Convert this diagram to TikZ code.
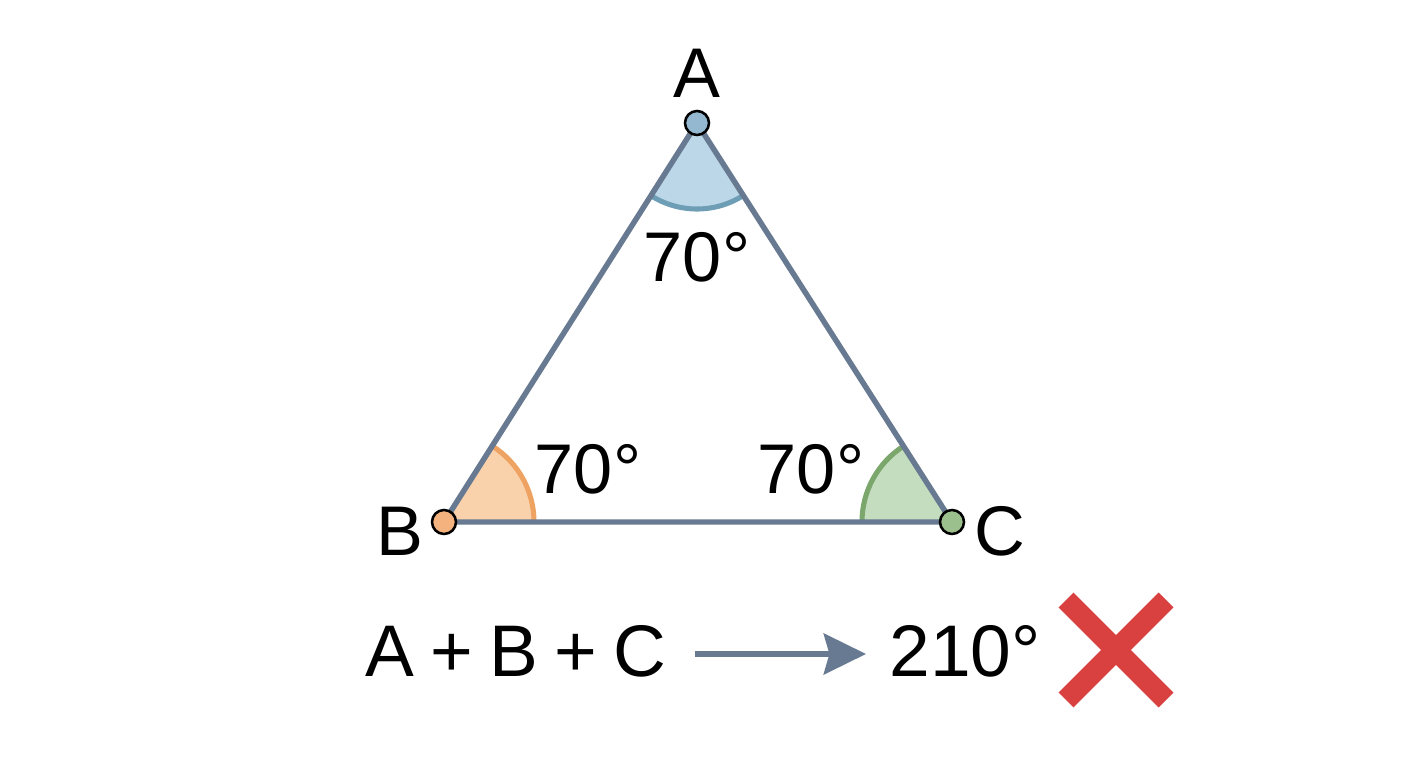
\documentclass[tikz,border=0pt]{standalone}
\usepackage{fontspec}
\setmainfont{Liberation Sans}
\usepackage{tikz}
\usetikzlibrary{arrows.meta,calc}
\definecolor{edgegray}{HTML}{687A91}
\definecolor{afill}{HTML}{BCD8E8}
\definecolor{aarc}{HTML}{6E9EB6}
\definecolor{adot}{HTML}{93B8D0}
\definecolor{bfill}{HTML}{F9D2AC}
\definecolor{barc}{HTML}{EFA362}
\definecolor{bdot}{HTML}{F4B27E}
\definecolor{cfill}{HTML}{C4DDBE}
\definecolor{carc}{HTML}{7BA66C}
\definecolor{cdot}{HTML}{9CC08D}
\definecolor{wrongred}{HTML}{D94040}
\newcommand{\gap}{\hspace{0.22em}}
\tikzset{
  vdot/.style={circle,draw=black,line width=1.8pt,minimum size=0.6cm,inner sep=0pt},
  side/.style={edgegray,line width=3.9pt},
  lab/.style={anchor=base,font=\fontsize{50}{56}\selectfont},
  eq/.style={anchor=base,font=\fontsize{52}{58}\selectfont}
}

\begin{document}
\begin{tikzpicture}[x=0.025cm,y=0.025cm]
\useasboundingbox (0,0) rectangle (1408,768);
\coordinate (A) at (697,645);
\coordinate (B) at (444,246);
\coordinate (C) at (952,246);
% angle sectors
\fill[afill] (A) -- ++(237.6:2.15cm) arc[start angle=237.6,end angle=302.6,radius=2.15cm] -- cycle;
\draw[aarc,line width=3.6pt] ($(A)+(237.6:2.15cm)$) arc[start angle=237.6,end angle=302.6,radius=2.15cm];
\fill[bfill] (B) -- ++(0:2.25cm) arc[start angle=0,end angle=57.6,radius=2.25cm] -- cycle;
\draw[barc,line width=3.6pt] ($(B)+(0:2.25cm)$) arc[start angle=0,end angle=57.6,radius=2.25cm];
\fill[cfill] (C) -- ++(122.6:2.25cm) arc[start angle=122.6,end angle=180,radius=2.25cm] -- cycle;
\draw[carc,line width=3.6pt] ($(C)+(122.6:2.25cm)$) arc[start angle=122.6,end angle=180,radius=2.25cm];
% sides
\draw[side,line join=round] (A) -- (B) -- (C) -- cycle;
\node[vdot,fill=adot] (dA) at (A) {};
\node[vdot,fill=bdot] (dB) at (B) {};
\node[vdot,fill=cdot] (dC) at (C) {};
\node[lab] (lA) at (697,670) {A};
\node[lab] (lB) at (400,212) {B};
\node[lab] (lC) at (1000,212) {C};
\node[lab] (angA) at (697,486) {70°};
\node[lab] (angB) at (588,274) {70°};
\node[lab] (angC) at (811,274) {70°};
% sum
\node[eq] (sum) at (516,91) {A\gap+\gap B\gap+\gap C};
\node[eq] (res) at (965,91) {210°};
\coordinate (arrS) at (695,114);
\coordinate (arrE) at (866,114);
\draw[edgegray,line width=4.3pt,-{Stealth[length=30pt,width=29pt,inset=4pt]}] (arrS) -- (arrE);
\coordinate (X) at (1116,118);
\draw[wrongred,line width=15pt] ($(X)+(-50,-50)$) -- ($(X)+(50,50)$);
\draw[wrongred,line width=15pt] ($(X)+(-50,50)$) -- ($(X)+(50,-50)$);
\end{tikzpicture}
\end{document}
